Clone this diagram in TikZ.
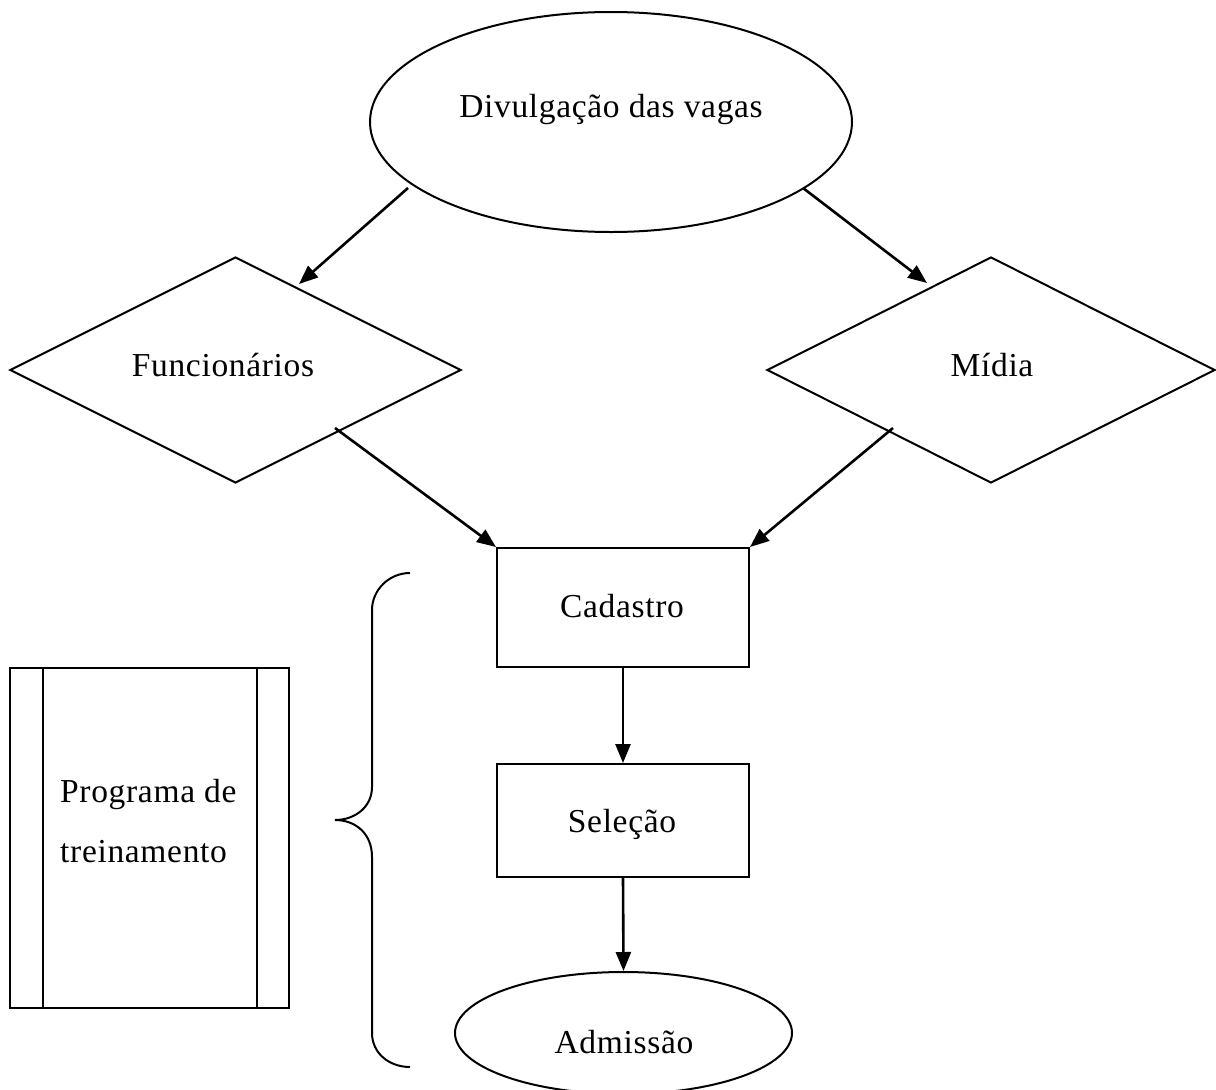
\documentclass[tikz,border=0pt]{standalone}
\usepackage{fontspec}
\setmainfont{Liberation Serif}[LetterSpace=2]
\usetikzlibrary{shapes.geometric,arrows.meta}
\begin{document}
\begin{tikzpicture}[x=1pt,y=-1pt,
  shapeline/.style={draw=black,line width=2pt,inner sep=0pt},
  conn/.style={line width=2.6pt,-{Triangle[length=19pt,width=15pt]}},
  lbl/.style={font=\fontsize{33.5}{40}\selectfont,anchor=base,inner sep=0pt}]
\useasboundingbox (0,0) rectangle (1216,1090);
\clip (0,0) rectangle (1216,1090);
\fill[white] (0,0) rectangle (1216,1090);

% top ellipse
\node[ellipse,shapeline,minimum width=482pt,minimum height=220pt] (divulg) at (611,122) {};
\node[lbl] (tdivulg) at (611,117) {Divulgação das vagas};

% diamonds
\node[diamond,shapeline,minimum width=451pt,minimum height=226pt] (func) at (235.5,370) {};
\node[lbl] (tfunc) at (223,376) {Funcionários};
\node[diamond,shapeline,minimum width=448pt,minimum height=226pt] (midia) at (991,370) {};
\node[lbl] (tmidia) at (992,376) {Mídia};

% rectangles
\node[rectangle,shapeline,minimum width=252pt,minimum height=119pt] (cad) at (623,607.5) {};
\node[lbl] (tcad) at (622,617) {Cadastro};
\node[rectangle,shapeline,minimum width=252pt,minimum height=113pt] (sel) at (623,820.5) {};
\node[lbl] (tsel) at (622,832) {Seleção};

% bottom ellipse
\node[ellipse,shapeline,minimum width=337pt,minimum height=122pt] (adm) at (623.5,1033) {};
\node[lbl] (tadm) at (624,1053) {Admissão};

% program box
\node[rectangle,shapeline,minimum width=279pt,minimum height=340pt] (prog) at (149.5,838) {};
\draw[line width=2pt] ([xshift=34pt]prog.north west) -- ([xshift=34pt]prog.south west);
\draw[line width=2pt] ([xshift=-33pt]prog.north east) -- ([xshift=-33pt]prog.south east);
\node[lbl,anchor=base west] (tprog1) at (60,802) {Programa de};
\node[lbl,anchor=base west] (tprog2) at (60,862) {treinamento};

% brace
\draw[line width=2pt] (410,573) .. controls (389,573) and (372,590) .. (372,610)
  -- (372,787) .. controls (372,807) and (355,820) .. (335,820)
  .. controls (355,820) and (372,833) .. (372,857)
  -- (372,1033) .. controls (372,1053) and (389,1067) .. (410,1067);

% connectors
\coordinate (a1s) at (408,188);
\coordinate (a1e) at (299,284);
\coordinate (a2s) at (803,188);
\coordinate (a2e) at (927,283);
\coordinate (a3s) at (335,428);
\coordinate (a4s) at (893,428);
\draw[conn] (a1s) -- (a1e);
\draw[conn] (a2s) -- (a2e);
\draw[conn] (a3s) -- (cad.north west);
\draw[conn] (a4s) -- (cad.north east);
\draw[conn] (cad.south) -- (sel.north);
\draw[conn] (sel.south) -- (adm.north);
\end{tikzpicture}
\end{document}
